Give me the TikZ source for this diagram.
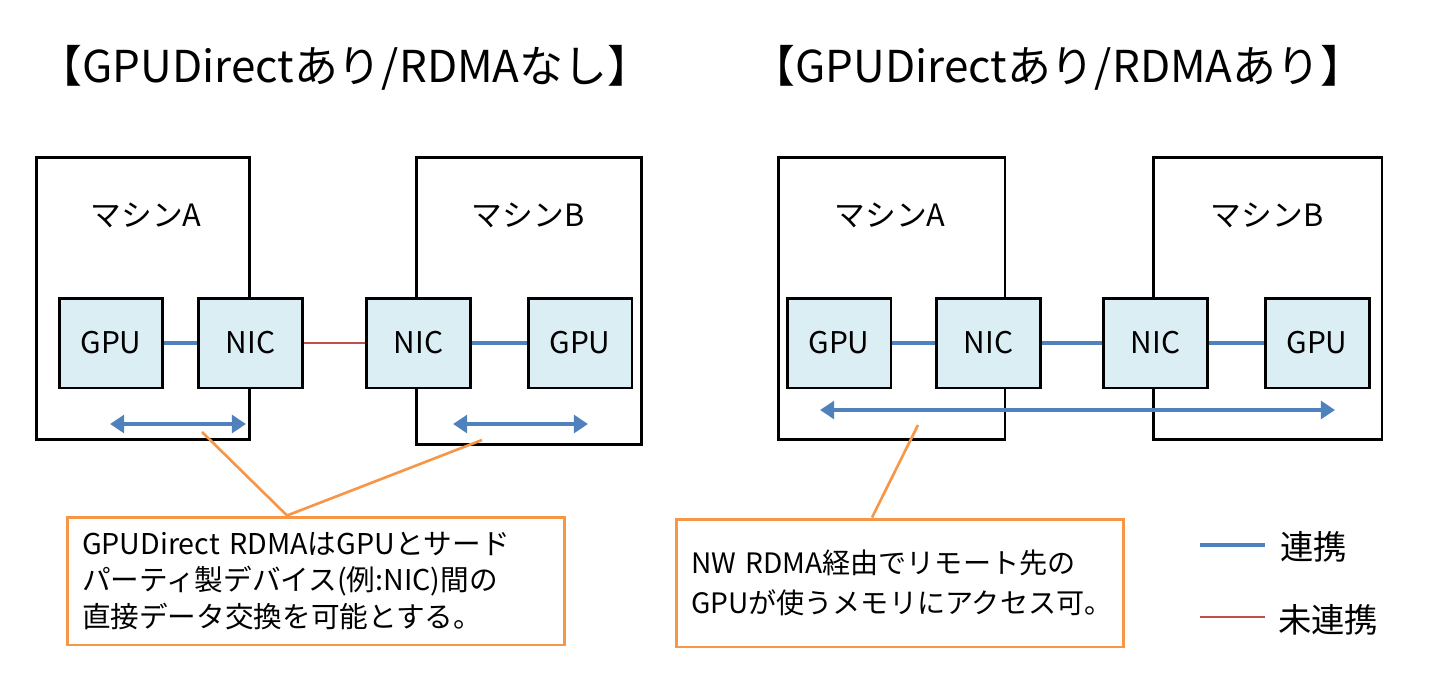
\documentclass[tikz,border=0pt]{standalone}
\usepackage{fontspec}
\setmainfont{Noto Sans CJK JP}
\usetikzlibrary{arrows.meta}
\definecolor{linkblue}{HTML}{4F81BD}
\definecolor{nolinkred}{HTML}{C0504D}
\definecolor{noteorange}{HTML}{F79646}
\definecolor{unitfill}{HTML}{DAEEF3}
\tikzset{
  machine/.style 2 args={draw=black, line width=1.7pt, fill=white, minimum width=#1, minimum height=#2},
  unit/.style={draw=black, line width=1.7pt, fill=unitfill, minimum width=2.08cm, minimum height=1.8cm, font=\fontsize{17}{20}\selectfont},
  link/.style={linkblue, line width=2.3pt},
  nolink/.style={nolinkred, line width=1.3pt},
  span/.style={linkblue, line width=2.3pt, {Triangle[width=10pt,length=8pt]}-{Triangle[width=10pt,length=8pt]}},
  note/.style={draw=noteorange, line width=1.7pt, align=left, inner xsep=0.3cm, minimum height=2.56cm, font=\fontsize{16.3}{21}\selectfont},
  pointer/.style={noteorange, line width=1.5pt}
}
\begin{document}
\begin{tikzpicture}[x=0.02cm, y=-0.02cm, every node/.style={font=\fontsize{17.5}{20}\selectfont}]
  \useasboundingbox (0,0) rectangle (1439,686);
  % Titel
  \node (titleL) at (345,68) {\fontsize{25}{28}\selectfont 【GPUDirectあり/RDMAなし】};
  \node (titleR) at (1058,68) {\fontsize{25}{28}\selectfont 【GPUDirectあり/RDMAあり】};
  % Maschinen
  \node[machine={4.28cm}{5.66cm}] (mAL) at (143,298.5) {};
  \node[machine={4.52cm}{5.76cm}] (mBL) at (529,301) {};
  \node[machine={4.54cm}{5.66cm}] (mAR) at (891.5,298.5) {};
  \node[machine={4.58cm}{5.66cm}] (mBR) at (1267.5,298.5) {};
  \foreach \n/\x/\t in {labAL/146/マシンA, labBL/528/マシンB, labAR/890/マシンA, labBR/1267/マシンB}{
    \node (\n) at (\x,215) {\t};
  }
  % GPU / NIC
  \foreach \n/\x/\t in {gpuAL/111/GPU, nicAL/250.5/NIC, nicBL/418.5/NIC, gpuBL/580/GPU,
                        gpuAR/839/GPU, nicAR/988.5/NIC, nicBR/1155.5/NIC, gpuBR/1317/GPU}{
    \node[unit] (\n) at (\x,343) {\t};
  }
  \draw[link] (gpuAL) -- (nicAL);
  \draw[nolink] (nicAL) -- (nicBL);
  \draw[link] (nicBL) -- (gpuBL);
  \draw[link] (gpuAR) -- (nicAR);
  \draw[link] (nicAR) -- (nicBR);
  \draw[link] (nicBR) -- (gpuBR);
  % Pfeile
  \coordinate (spanAL1) at (110,424); \coordinate (spanAL2) at (246,424);
  \coordinate (spanBL1) at (453,424); \coordinate (spanBL2) at (588,424);
  \coordinate (spanR1) at (820,410);  \coordinate (spanR2) at (1335,410);
  \draw[span] (spanAL1) -- (spanAL2);
  \draw[span] (spanBL1) -- (spanBL2);
  \draw[span] (spanR1) -- (spanR2);
  % Erklaerungen
  \node[note, text width=9.36cm] (noteL) at (316,581)
    {GPUDirect RDMAはGPUとサード\\パーティ製デバイス(例:NIC)間の\\直接データ交換を可能とする。};
  \node[note, text width=8.36cm, font=\fontsize{16}{23}\selectfont] (noteR) at (900,583)
    {NW RDMA経由でリモート先の\\GPUが使うメモリにアクセス可。};
  \coordinate (ptAL) at (202,432);
  \coordinate (ptBL) at (482,440);
  \coordinate (ptR) at (918,425);
  \draw[pointer] (ptAL) -- ([xshift=-0.58cm]noteL.north);
  \draw[pointer] (ptBL) -- ([xshift=-0.58cm]noteL.north);
  \draw[pointer] (ptR) -- ([xshift=-0.56cm]noteR.north);
  % Legende
  \coordinate (legL1) at (1200,545); \coordinate (legL2) at (1265,545);
  \coordinate (legN1) at (1200,617); \coordinate (legN2) at (1265,617);
  \draw[link] (legL1) -- (legL2);
  \draw[nolink] (legN1) -- (legN2);
  \node[anchor=west, font=\fontsize{19}{22}\selectfont] (legLtext) at (1274,547) {連携};
  \node[anchor=west, font=\fontsize{19}{22}\selectfont] (legNtext) at (1272,620) {未連携};
\end{tikzpicture}
\end{document}
